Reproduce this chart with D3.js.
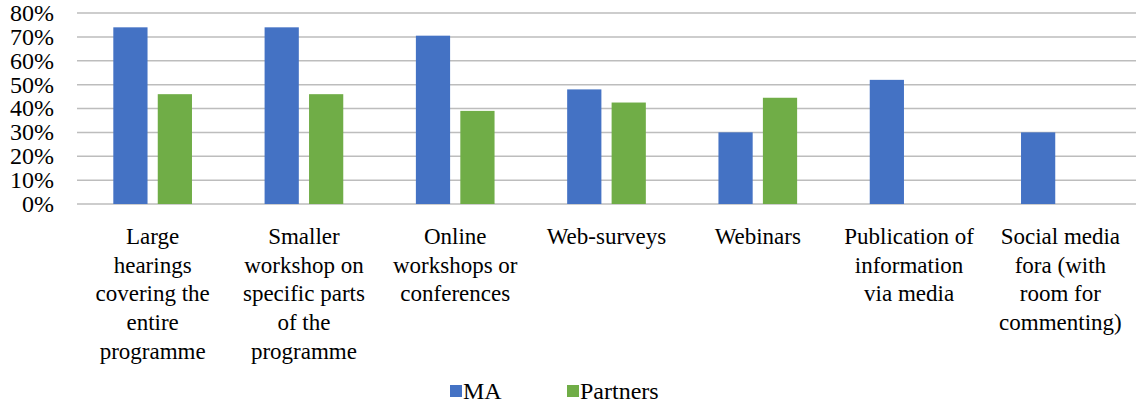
<!DOCTYPE html>
<html>
<head>
<meta charset="utf-8">
<script src="https://cdn.jsdelivr.net/npm/d3@7"></script>
</head>
<body style="margin:0">
<svg width="1138" height="403"></svg>
<script>
var categories = [
    ["Large", "hearings", "covering the", "entire", "programme"],
    ["Smaller", "workshop on", "specific parts", "of the", "programme"],
    ["Online", "workshops or", "conferences"],
    ["Web-surveys"],
    ["Webinars"],
    ["Publication of", "information", "via media"],
    ["Social media", "fora (with", "room for", "commenting)"]
];
var series = ["MA", "Partners"];
var maValues = [74, 74, 70.5, 48, 30, 52, 30];
var partnerValues = [46, 46, 39, 42.5, 44.5, null, null];
var yTicks = [0, 10, 20, 30, 40, 50, 60, 70, 80];
var colors = { "MA": "#4472C4", "Partners": "#70AD47" };

var svg = d3.select("svg"),
    plotLeft = 77, plotRight = 1136, plotTop = 13, plotBottom = 204;

var x = d3.scaleBand()
    .domain(d3.range(categories.length))
    .range([plotLeft, plotRight]);

var xInner = d3.scaleBand()
    .domain(series)
    .range([x.bandwidth() * 0.24, x.bandwidth() * 0.76])
    .paddingInner(0.23);

var y = d3.scaleLinear()
    .domain([0, 80])
    .range([plotBottom, plotTop]);

// gridlines
svg.append("g")
    .selectAll("line")
    .data(yTicks)
    .enter().append("line")
    .attr("x1", plotLeft)
    .attr("x2", plotRight)
    .attr("y1", function(d) { return y(d); })
    .attr("y2", function(d) { return y(d); })
    .attr("stroke", "#bdbdbd")
    .attr("stroke-width", 1.5);

// y labels
svg.append("g")
    .selectAll("text")
    .data(yTicks)
    .enter().append("text")
    .attr("x", 54)
    .attr("y", function(d) { return y(d); })
    .attr("dy", "0.33em")
    .attr("text-anchor", "end")
    .style("font-family", "'Liberation Serif'")
    .style("font-size", "24px")
    .text(function(d) { return d + "%"; });

var rows = [];
categories.forEach(function(c, i) {
    rows.push({ cat: i, s: "MA", v: maValues[i] });
    if (partnerValues[i] != null) rows.push({ cat: i, s: "Partners", v: partnerValues[i] });
});

svg.append("g")
    .selectAll("rect")
    .data(rows)
    .enter().append("rect")
    .attr("x", function(d) { return x(d.cat) + xInner(d.s); })
    .attr("width", xInner.bandwidth())
    .attr("y", function(d) { return y(d.v); })
    .attr("height", function(d) { return y(0) - y(d.v); })
    .attr("fill", function(d) { return colors[d.s]; });

// category labels, one tspan per line
var labels = svg.append("g")
    .selectAll("text")
    .data(categories)
    .enter().append("text")
    .attr("text-anchor", "middle")
    .style("font-family", "'Liberation Serif'")
    .style("font-size", "23px")
    .attr("transform", function(d, i) {
        return "translate(" + (x(i) + x.bandwidth() / 2) + ",244)";
    });
labels.selectAll("tspan")
    .data(function(d) { return d; })
    .enter().append("tspan")
    .attr("x", 0)
    .attr("y", function(d, i) { return i * 28.7; })
    .text(function(d) { return d; });

// legend
var legendPos = [450, 567];
var legend = svg.append("g")
    .selectAll("g")
    .data(series)
    .enter().append("g")
    .attr("transform", function(d, i) { return "translate(" + legendPos[i] + ",391)"; });
legend.append("rect")
    .attr("x", 0)
    .attr("y", -6)
    .attr("width", 12)
    .attr("height", 12)
    .attr("fill", function(d) { return colors[d]; });
legend.append("text")
    .attr("x", 13)
    .attr("dy", "0.33em")
    .style("font-family", "'Liberation Serif'")
    .style("font-size", "24px")
    .text(function(d) { return d; });
</script>
</body>
</html>
